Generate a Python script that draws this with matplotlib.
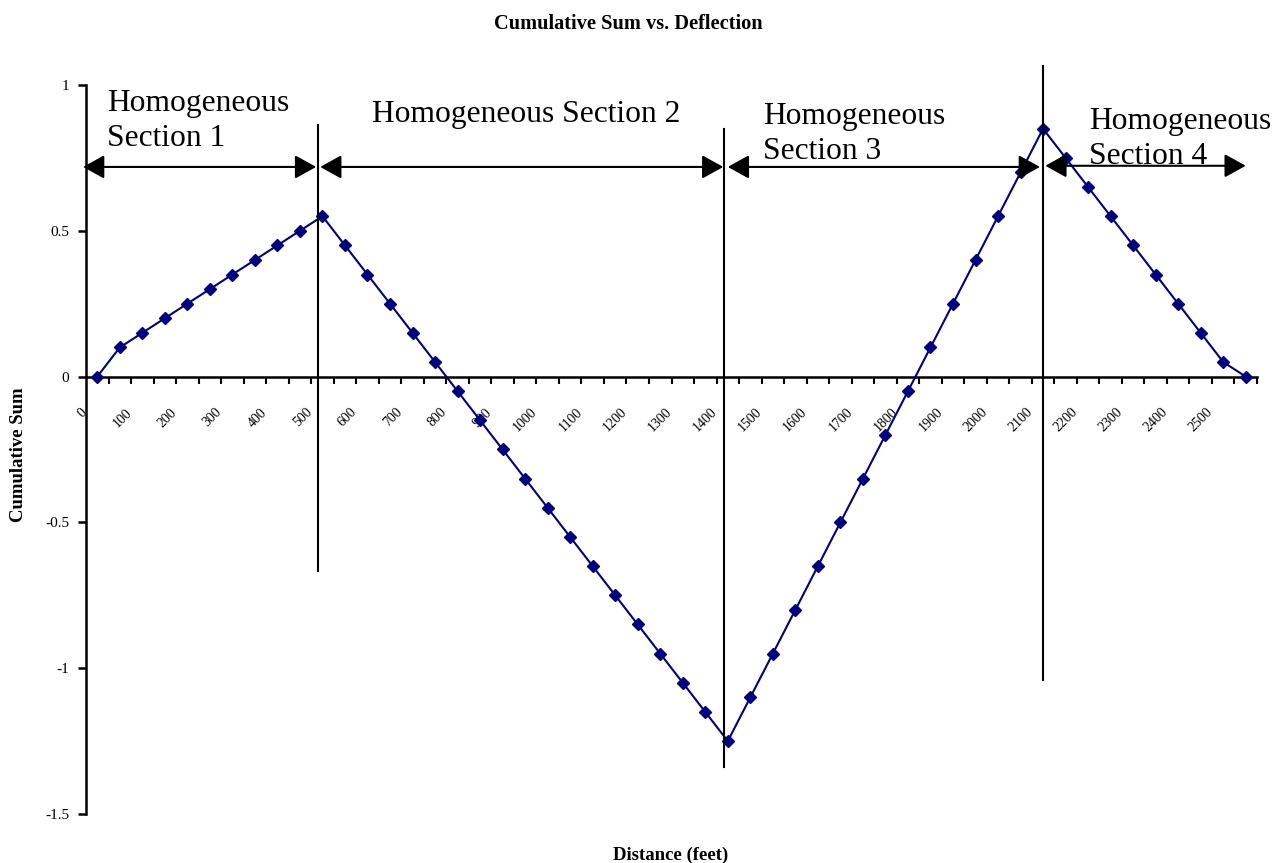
import matplotlib
matplotlib.use("Agg")
import matplotlib.pyplot as plt
import matplotlib.transforms as mtransforms
import numpy as np

# distance categories (feet), one every 50 ft
distance = list(range(0, 2600, 50))
cusum = [0.0, 0.1, 0.15, 0.2, 0.25, 0.3, 0.35, 0.4, 0.45, 0.5,
         0.55, 0.45, 0.35, 0.25, 0.15, 0.05, -0.05, -0.15, -0.25, -0.35,
         -0.45, -0.55, -0.65, -0.75, -0.85, -0.95, -1.05, -1.15, -1.25, -1.1,
         -0.95, -0.8, -0.65, -0.5, -0.35, -0.2, -0.05, 0.1, 0.25, 0.4,
         0.55, 0.7, 0.85, 0.75, 0.65, 0.55, 0.45, 0.35, 0.25, 0.15,
         0.05, 0.0]

y_ticks = [1, 0.5, 0, -0.5, -1, -1.5]
y_tick_labels = ["1", "0.5", "0", "-0.5", "-1", "-1.5"]

# section boundaries (category index) and the vertical extent of each line
boundary_x = [9.82, 27.85, 42.0]
boundary_y0 = [-0.665, -1.34, -1.04]
boundary_y1 = [0.862, 0.848, 1.065]

# section arrows: (start, end, height)
arrows = [(-0.63, 9.72, 0.719), (9.9, 27.8, 0.719),
          (28.0, 41.86, 0.719), (42.1, 51.0, 0.723)]
section_labels = ["Homogeneous\nSection 1", "Homogeneous Section 2",
                  "Homogeneous\nSection 3", "Homogeneous\nSection 4"]
label_x = [0.43, 12.2, 29.56, 44.04]
label_y = [0.79, 0.873, 0.745, 0.728]   # baseline of the last line

serif = ["Liberation Serif", "DejaVu Serif"]
plt.rcParams["font.family"] = serif

fig = plt.figure(figsize=(12.76, 8.63), dpi=100)
ax = fig.add_axes([86 / 1276, 1 - 814 / 863, 1171 / 1276, 729 / 863])

idx = np.arange(len(distance))
ax.plot(idx, cusum, color="#000080", lw=1.5, marker="D", ms=6.3,
        mec="#000080", mfc="#000080", zorder=3)

ax.set_xlim(-0.5, len(distance) - 0.5)
ax.set_ylim(-1.5, 1.0)

for s in ["top", "right"]:
    ax.spines[s].set_visible(False)
ax.spines["bottom"].set_position(("data", 0))
ax.spines["bottom"].set_linewidth(1.8)
ax.spines["left"].set_linewidth(1.8)

ax.set_yticks(y_ticks)
ax.set_yticklabels(y_tick_labels)
ax.tick_params(axis="y", direction="out", length=6, width=1.8, labelsize=11, pad=6)

# x: labels every other category, tick marks between categories
ax.set_xticks(idx[::2])
ax.set_xticklabels([str(d) for d in distance[::2]], rotation=45,
                   ha="right", va="top")
ax.set_xticks(np.arange(0.5, len(distance), 1), minor=True)
ax.tick_params(axis="x", which="major", length=0, labelsize=10, pad=21)
ax.tick_params(axis="x", which="minor", direction="out", length=5, width=1.5)
offset = mtransforms.ScaledTranslation(-0.08, 0, fig.dpi_scale_trans)
for lab in ax.get_xticklabels():
    lab.set_transform(lab.get_transform() + offset)

# section boundaries
for bx, y0, y1 in zip(boundary_x, boundary_y0, boundary_y1):
    ax.plot([bx, bx], [y0, y1], color="black", lw=1.5, clip_on=False, zorder=4)

for (x0, x1, yy) in arrows:
    ax.annotate("", xy=(x1, yy), xytext=(x0, yy),
                arrowprops=dict(arrowstyle="<|-|>,head_length=13,head_width=7.2",
                                mutation_scale=1, color="black", lw=1.5,
                                shrinkA=0, shrinkB=0),
                annotation_clip=False, zorder=5)

for txt, tx, ty in zip(section_labels, label_x, label_y):
    ax.text(tx, ty, txt, fontsize=22.7, ha="left", va="baseline",
            linespacing=1.3, clip_on=False, zorder=6)

fig.text(628 / 1276, 1 - 24 / 863, "Cumulative Sum vs. Deflection", ha="center",
         va="center", fontsize=14.7, fontweight="bold")
fig.text(671 / 1276, 1 - 855 / 863, "Distance (feet)", ha="center",
         va="center", fontsize=13.5, fontweight="bold")
fig.text(19 / 1276, 1 - 455 / 863, "Cumulative Sum", ha="center",
         va="center", rotation=90, fontsize=13.5, fontweight="bold")

fig.savefig("out.png", dpi=100)
